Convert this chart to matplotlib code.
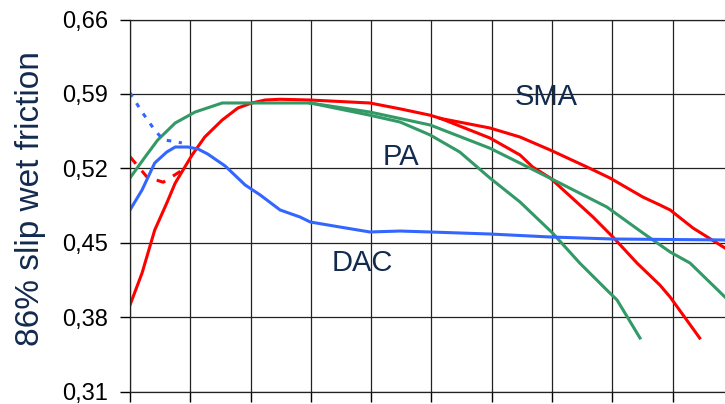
import matplotlib.pyplot as plt

plt.rcParams['font.family'] = ['Liberation Sans', 'DejaVu Sans']

# SMA (red) - common rising part, then two branches
sma_x = [0, 0.2, 0.41, 0.61, 0.75, 0.88, 1.03, 1.24, 1.53, 1.79, 2.02, 2.24, 2.49, 2.99, 3.98, 4.48, 4.98, 5.15]
sma_y = [0.3915, 0.4216, 0.462, 0.4874, 0.5062, 0.5185, 0.5326, 0.5495, 0.5655, 0.5768, 0.5815, 0.5843, 0.585,
         0.5843, 0.5815, 0.576, 0.570, 0.567]
sma_a_x = [5.15, 5.97, 6.47, 6.97, 7.63, 7.96, 8.51, 8.79, 8.96, 9.34, 9.87]
sma_a_y = [0.567, 0.558, 0.5495, 0.5373, 0.520, 0.511, 0.493, 0.4856, 0.4809, 0.4639, 0.4451]
sma_b_x = [5.15, 5.97, 6.47, 6.68, 6.97, 7.68, 8.01, 8.41, 8.79, 8.96, 9.45]
sma_b_y = [0.567, 0.5486, 0.5326, 0.5213, 0.511, 0.4743, 0.4555, 0.431, 0.4103, 0.399, 0.3605]
sma_dash_x = [0, 0.28, 0.55, 0.83, 0.9]
sma_dash_y = [0.531, 0.512, 0.507, 0.517, 0.522]

# PA (green)
pa_x = [0, 0.25, 0.46, 0.75, 1.08, 1.53, 1.74, 2.24, 2.99]
pa_y = [0.511, 0.5307, 0.5467, 0.5627, 0.573, 0.5815, 0.5815, 0.5815, 0.5815]
pa_a_x = [2.99, 3.98, 4.98, 5.97, 6.63, 7.13, 7.91, 8.51, 8.96, 9.29, 9.87]
pa_a_y = [0.5815, 0.573, 0.5608, 0.539, 0.5204, 0.5062, 0.4837, 0.4592, 0.4414, 0.431, 0.399]
pa_b_x = [2.99, 3.98, 4.48, 4.98, 5.47, 5.97, 6.47, 7.01, 7.46, 7.91, 8.08, 8.46]
pa_b_y = [0.5815, 0.570, 0.5636, 0.5514, 0.5354, 0.511, 0.4884, 0.4592, 0.431, 0.4056, 0.3962, 0.3605]

# DAC (blue)
dac_x = [0, 0.2, 0.41, 0.61, 0.75, 0.96, 1.13, 1.29, 1.58, 1.91, 2.16, 2.49, 2.82, 2.99, 3.48, 3.98, 4.48,
         4.98, 5.97, 6.97, 8.01, 9.87]
dac_y = [0.4809, 0.4997, 0.5251, 0.5354, 0.5401, 0.5401, 0.5382, 0.5335, 0.5222, 0.5044, 0.495, 0.4809, 0.4743,
         0.4696, 0.4649, 0.4602, 0.4611, 0.4602, 0.4583, 0.4555, 0.4536, 0.4527]
dac_dot_x = [0, 0.2, 0.41, 0.55, 0.86]
dac_dot_y = [0.591, 0.573, 0.556, 0.547, 0.544]

y_ticks = [0.31, 0.38, 0.45, 0.52, 0.59, 0.66]
y_labels = ['0,31', '0,38', '0,45', '0,52', '0,59', '0,66']

red = '#ff0000'
green = '#339966'
blue = '#3366ff'
navy = '#132a4f'

fig = plt.figure(figsize=(7.25, 4.04), dpi=100)
ax = fig.add_axes([0.1793, 0.0304, 0.8207, 0.9213])

lw = 2.2
ax.plot(sma_x, sma_y, color=red, lw=lw)
ax.plot(sma_a_x, sma_a_y, color=red, lw=lw)
ax.plot(sma_b_x, sma_b_y, color=red, lw=lw)
ax.plot(sma_dash_x, sma_dash_y, color=red, lw=lw, dashes=(3, 3))
ax.plot(pa_x, pa_y, color=green, lw=lw)
ax.plot(pa_a_x, pa_a_y, color=green, lw=lw)
ax.plot(pa_b_x, pa_b_y, color=green, lw=lw)
ax.plot(dac_x, dac_y, color=blue, lw=lw)
ax.plot(dac_dot_x, dac_dot_y, color=blue, lw=lw, dashes=(1.5, 2.5))

ax.set_xlim(0, 9.87)
ax.set_ylim(0.31, 0.66)
ax.set_xticks(range(10))
ax.set_xticklabels([])
ax.set_yticks(y_ticks)
ax.set_yticklabels(y_labels, fontsize=17)
ax.tick_params(axis='both', direction='out', length=7, width=1, color='black')
ax.tick_params(axis='y', pad=9)
ax.grid(True, color='#222222', lw=0.9)
ax.set_axisbelow(True)

ax.spines['right'].set_visible(False)
for s in ['left', 'bottom', 'top']:
    ax.spines[s].set_color('#222222')
    ax.spines[s].set_linewidth(0.9)

ax.set_ylabel('86% slip wet friction', fontsize=24, color=navy)
ax.yaxis.set_label_coords(-0.142, 0.518)

ax.text(6.9, 0.587, 'SMA', fontsize=21, color=navy, ha='center', va='center')
ax.text(4.5, 0.5305, 'PA', fontsize=21, color=navy, ha='center', va='center')
ax.text(3.86, 0.431, 'DAC', fontsize=21, color=navy, ha='center', va='center')

fig.savefig('out.png', dpi=100)
